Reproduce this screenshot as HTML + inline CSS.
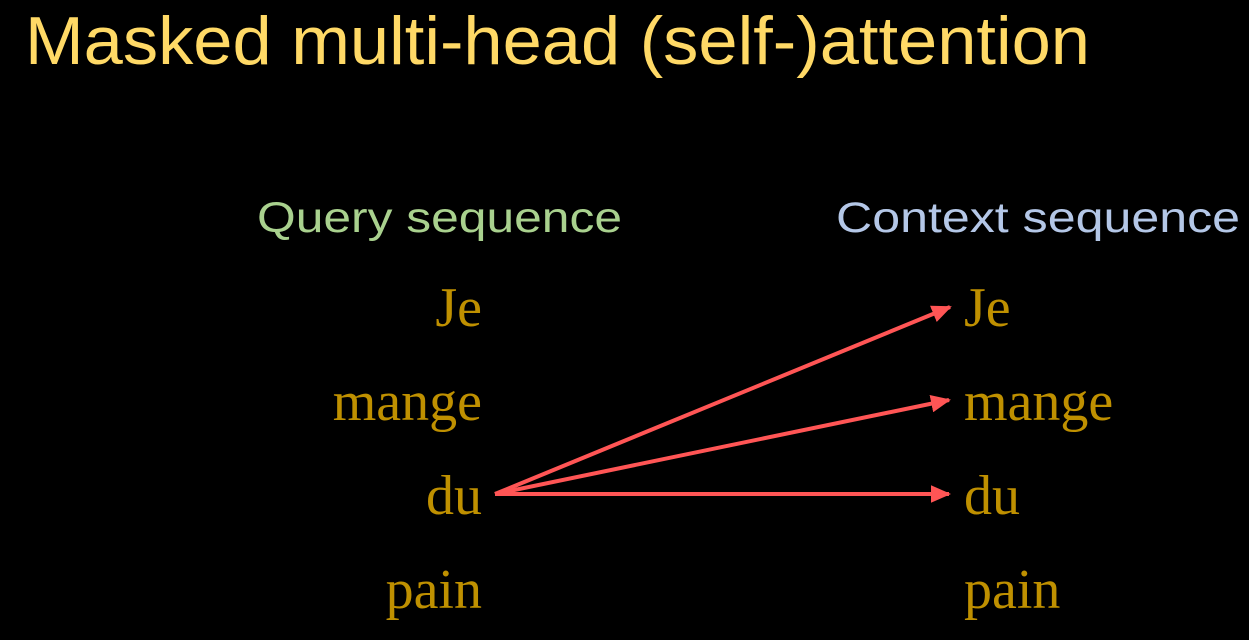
<!DOCTYPE html>
<html><head><meta charset="utf-8"><style>
html,body{margin:0;padding:0;background:#000;}
svg{display:block;}
</style></head><body>
<svg width="1249" height="640" viewBox="0 0 1249 640" xmlns="http://www.w3.org/2000/svg">
<rect width="1249" height="640" fill="#000"/>
<text x="25" y="64" font-family="Liberation Sans, sans-serif" font-size="68" fill="#ffd966" textLength="1065" lengthAdjust="spacingAndGlyphs">Masked multi-head (self-)attention</text>
<text x="257" y="232" font-family="Liberation Sans, sans-serif" font-size="43" fill="#a9d18e" textLength="365" lengthAdjust="spacingAndGlyphs">Query sequence</text>
<text x="836" y="232" font-family="Liberation Sans, sans-serif" font-size="43" fill="#b4c7e7" textLength="404" lengthAdjust="spacingAndGlyphs">Context sequence</text>
<g font-family="Liberation Serif, serif" font-size="56" fill="#bf9000">
<text x="482" y="326" text-anchor="end">Je</text>
<text x="482" y="420" text-anchor="end">mange</text>
<text x="482" y="514" text-anchor="end">du</text>
<text x="482" y="608" text-anchor="end">pain</text>
<text x="964" y="326">Je</text>
<text x="964" y="420">mange</text>
<text x="964" y="514">du</text>
<text x="964" y="608">pain</text>
</g>
<defs><marker id="a" markerWidth="5" markerHeight="4.4" refX="4.5" refY="2.2" orient="auto" markerUnits="strokeWidth"><path d="M0,0 L5,2.2 L0,4.4 z" fill="#ff5555"/></marker></defs>
<g stroke="#ff5555" stroke-width="4" fill="none">
<line x1="495" y1="494" x2="950" y2="307" marker-end="url(#a)"/>
<line x1="495" y1="494" x2="949" y2="400" marker-end="url(#a)"/>
<line x1="495" y1="494" x2="949" y2="494" marker-end="url(#a)"/>
</g>
</svg>
</body></html>
